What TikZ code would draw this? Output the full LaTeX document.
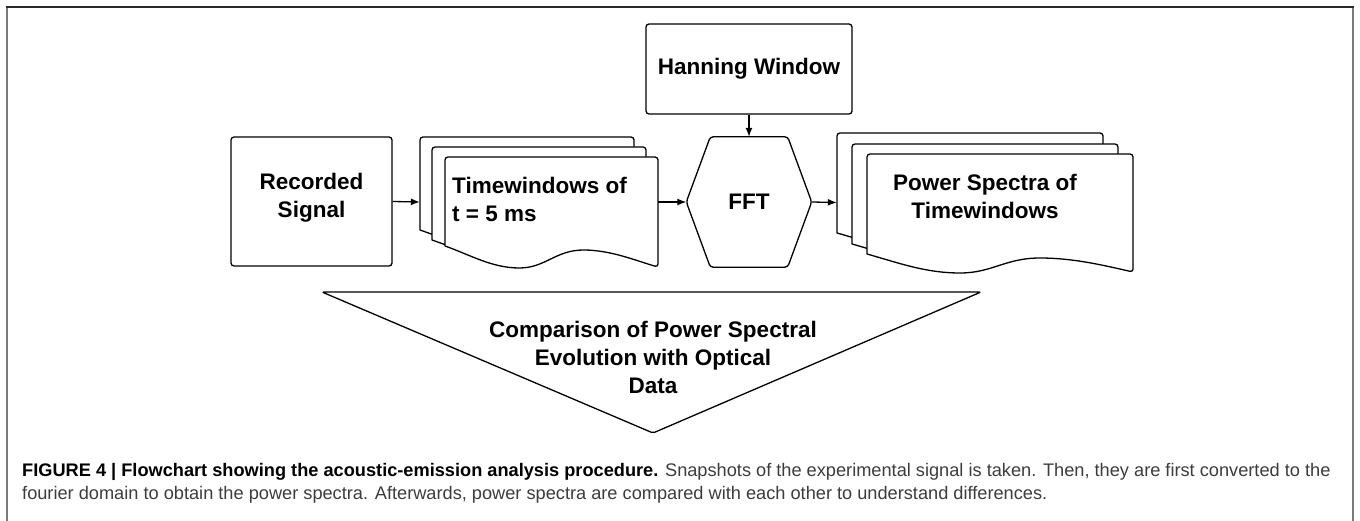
\documentclass[tikz,border=0pt]{standalone}
\usepackage{fontspec}
\setmainfont{Liberation Sans}
\usetikzlibrary{arrows.meta}
\definecolor{capgrey}{HTML}{3C3C3C}
\definecolor{framegrey}{HTML}{7A7A7A}
\definecolor{framedark}{HTML}{2A2A2A}
% one paper of a stack: left x, top y, width, left drop, right drop
\newcommand{\docsheet}[5]{%
  \draw[sheet] (#1,{#2+#4}) [rounded corners=3pt] -- (#1,#2) -- ({#1+#3},#2) -- ({#1+#3},{#2+#5}) [sharp corners]
    .. controls ({#1+0.9*#3},{#2+#5-6}) and ({#1+0.78*#3},{#2+#4+4}) .. ({#1+0.65*#3},{#2+#4+4})
    .. controls ({#1+0.52*#3},{#2+#4+4}) and ({#1+0.47*#3},{#2+#5+1}) .. ({#1+0.35*#3},{#2+#5+1})
    .. controls ({#1+0.22*#3},{#2+#5+1}) and ({#1+0.12*#3},{#2+#4+9}) .. (#1,{#2+#4}) -- cycle;}
\tikzset{
  sheet/.style={draw=black, fill=white, line width=1.3pt, line join=round},
  box/.style={draw=black, line width=1.3pt, rounded corners=3pt, inner sep=0pt},
  lbl/.style={inner sep=0pt, font=\fontsize{22.5}{28}\selectfont\bfseries},
  flow/.style={line width=1.3pt, -{Latex[length=9pt,width=7pt]}}
}
\begin{document}
\begin{tikzpicture}[x=1pt, y=-1pt]
    \useasboundingbox (0,0) rectangle (1360,521);
    \draw[framegrey, line width=1.5pt] (7,521) -- (7,7.5);
    \draw[framegrey, line width=1.5pt] (1353,521) -- (1353,7.5);
    \draw[framedark, line width=1.5pt] (6.25,7) -- (1353.75,7);
    % boxes
    \node[box, minimum width=161pt, minimum height=129pt] (rec) at (311.5,201.5) {};
    \node[lbl, align=center] (rectext) at (311.5,198) {Recorded\\Signal};
    \node[box, lbl, minimum width=206pt, minimum height=90pt] (hann) at (749,69) {Hanning Window};
    \node[lbl, minimum width=125pt, minimum height=130pt] (fft) at (749,202) {FFT};
    \draw[sheet, rounded corners=3pt] ([xshift=24pt]fft.north west) -- ([xshift=-24pt]fft.north east) -- (fft.east)
        -- ([xshift=-24pt]fft.south east) -- ([xshift=24pt]fft.south west) -- (fft.west) -- cycle;
    \node[lbl] at (fft) {FFT};
    % stacks of papers
    \docsheet{420}{137}{214}{93}{110}
    \docsheet{432}{147}{214}{93}{110}
    \docsheet{445}{157}{213}{89}{110}
    \node[inner sep=0pt, minimum width=238pt, minimum height=130pt] (tw) at (539,202) {};
    \node[lbl, align=left, anchor=west] (twtext) at (452,199) {Timewindows of\\t = 5 ms};
    \docsheet{837}{133}{266}{100}{118}
    \docsheet{852}{144}{266}{100}{118}
    \docsheet{867}{154}{266}{100}{118}
    \node[inner sep=0pt, minimum width=296pt, minimum height=139pt] (ps) at (985,202.5) {};
    \node[lbl, align=center] (pstext) at (985,196) {Power Spectra of\\Timewindows};
    % comparison
    \draw[sheet, rounded corners=2pt] (322,292) -- (981,292) -- (653,433) -- cycle;
    \node[lbl, align=center] (cmp) at (653,357) {Comparison of Power Spectral\\Evolution with Optical\\Data};
    % connectors
    \draw[flow] (rec.east) -- (tw.west);
    \draw[flow] (tw.east) -- (fft.west);
    \draw[flow] (hann.south) -- (fft.north);
    \draw[flow] (fft.east) -- (ps.west);
    % caption
    \node[anchor=base west, inner sep=0pt, align=left, text=capgrey, font=\fontsize{18.2}{23}\selectfont] (cap) at (22,499.5)
        {\textcolor{black}{\textbf{FIGURE 4 | Flowchart showing the acoustic-emission analysis procedure.}} Snapshots of the experimental signal is taken. Then, they are first converted to the\\
        fourier domain to obtain the power spectra. Afterwards, power spectra are compared with each other to understand differences.};
\end{tikzpicture}
\end{document}
